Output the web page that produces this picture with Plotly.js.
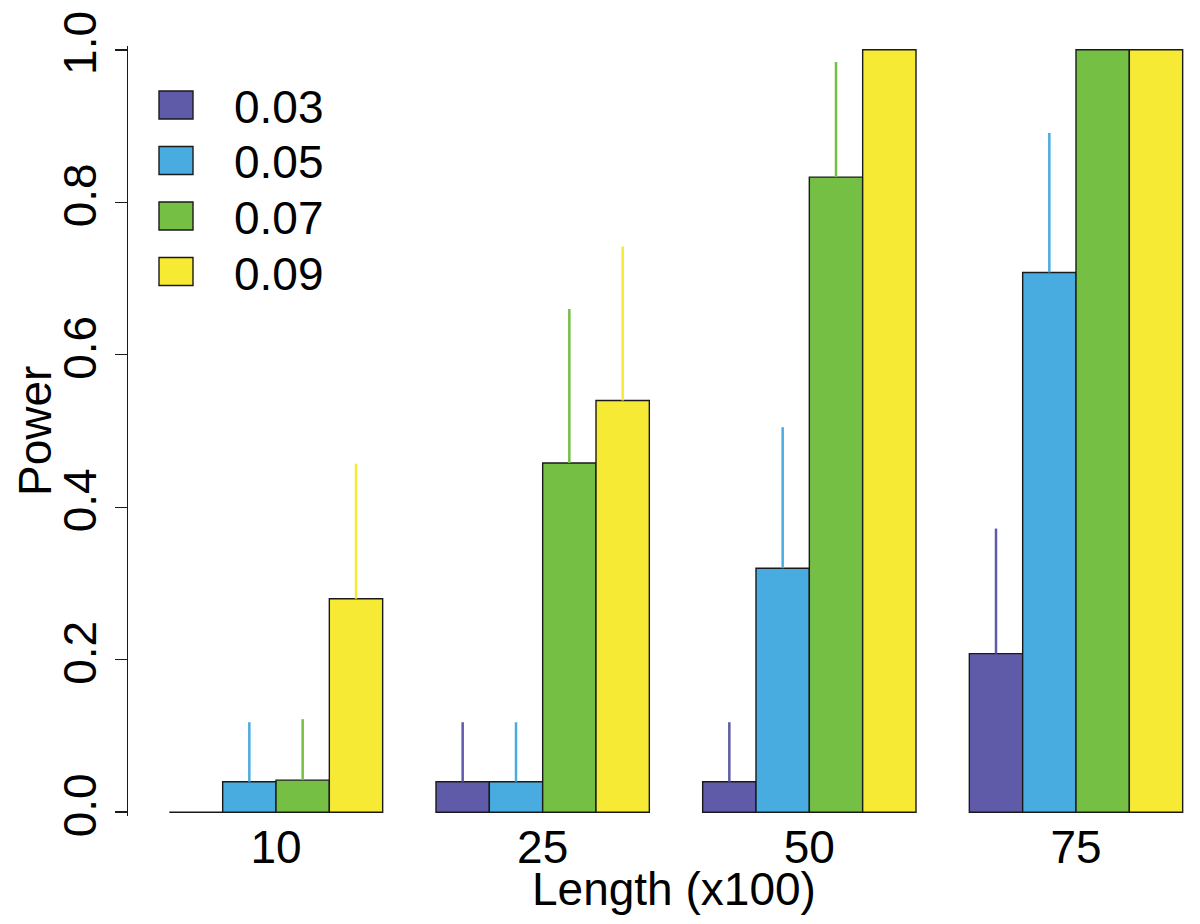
<!DOCTYPE html>
<html>
<head>
<meta charset="utf-8">
<script src="https://cdn.plot.ly/plotly-3.0.1.min.js"></script>
<style>html,body{margin:0;padding:0;background:#fff;}#chart{width:1200px;height:924px;}</style>
</head>
<body>
<div id="chart"></div>
<script>
// ---- data ----
const categories = ["10", "25", "50", "75"];
const seriesNames = ["0.03", "0.05", "0.07", "0.09"];
const seriesColors = ["#5F5BA9", "#49ACE0", "#74BF44", "#F6EA35"];
const power003 = [0.0, 0.04, 0.04, 0.208];
const power005 = [0.04, 0.04, 0.32, 0.708];
const power007 = [0.042, 0.458, 0.833, 1.0];
const power009 = [0.28, 0.54, 1.0, 1.0];
const upper003 = [0.0, 0.118, 0.118, 0.372];
const upper005 = [0.118, 0.118, 0.505, 0.891];
const upper007 = [0.122, 0.66, 0.984, 1.0];
const upper009 = [0.457, 0.742, 1.0, 1.0];
const yTickVals = [0, 0.2, 0.4, 0.6, 0.8, 1.0];
const yTickText = ["0.0", "0.2", "0.4", "0.6", "0.8", "1.0"];
const xTitle = "Length (x100)";
const yTitle = "Power";

// ---- layout geometry ----
const W = 1200, H = 924, ML = 128, MR = 0, MT = 46, MB = 108;
const PW = W - ML - MR, PH = H - MT - MB;
const pxX = p => (p - ML) / PW;
const pxY = p => (H - MB - p) / PH;
const FONT = '"Liberation Sans", Arial, Helvetica, sans-serif';
const FS = 46;

const values = [power003, power005, power007, power009];
const uppers = [upper003, upper005, upper007, upper009];

const traces = values.map((v, i) => ({
  type: 'bar',
  name: seriesNames[i],
  x: categories,
  y: v,
  marker: {color: seriesColors[i], line: {color: '#1a1a1a', width: 1.4}},
  error_y: {
    type: 'data', symmetric: false,
    array: uppers[i].map((u, k) => u - v[k]),
    arrayminus: v.map(() => 0),
    width: 0, thickness: 2.5, color: seriesColors[i]
  },
  showlegend: false,
  hoverinfo: 'x+y+name'
}));

// legend drawn as boxes + labels (R-style legend)
const shapes = [];
const annotations = [];
const legTop = 105, legStep = 55.5;
seriesNames.forEach((n, i) => {
  const cy = legTop + i * legStep;
  shapes.push({type: 'rect', xref: 'paper', yref: 'paper',
    x0: pxX(159), x1: pxX(193), y0: pxY(cy + 14), y1: pxY(cy - 14),
    fillcolor: seriesColors[i], line: {color: '#1a1a1a', width: 1.4}});
  annotations.push({xref: 'paper', yref: 'paper', x: pxX(232), y: pxY(cy + 2),
    xanchor: 'left', yanchor: 'middle', showarrow: false, text: n,
    font: {family: FONT, size: FS, color: '#000'}});
});
annotations.push({xref: 'paper', yref: 'paper', x: pxX(674), y: pxY(889),
  xanchor: 'center', yanchor: 'middle', showarrow: false, text: xTitle,
  font: {family: FONT, size: FS, color: '#000'}});
annotations.push({xref: 'paper', yref: 'paper', x: pxX(35), y: pxY(431),
  xanchor: 'center', yanchor: 'middle', showarrow: false, text: yTitle, textangle: -90,
  font: {family: FONT, size: FS, color: '#000'}});

const layout = {
  width: W, height: H,
  margin: {l: ML, r: MR, t: MT, b: MB, pad: 0},
  paper_bgcolor: '#fff', plot_bgcolor: '#fff',
  barmode: 'group', bargap: 0.2, bargroupgap: 0,
  font: {family: FONT, size: FS, color: '#000'},
  showlegend: false,
  xaxis: {
    type: 'category', range: [-0.555, 3.465],
    showline: false, showgrid: false, zeroline: false, ticks: '',
    tickfont: {family: FONT, size: FS, color: '#000'},
    automargin: false
  },
  yaxis: {
    range: [-0.005, 1.005],
    tickvals: yTickVals, ticktext: yTickText, tickangle: -90,
    showline: true, linecolor: '#1a1a1a', linewidth: 1.4,
    ticks: 'outside', ticklen: 12, tickwidth: 1.4, tickcolor: '#1a1a1a',
    showgrid: false, zeroline: false,
    tickfont: {family: FONT, size: FS, color: '#000'},
    automargin: false
  },
  shapes: shapes,
  annotations: annotations
};

Plotly.newPlot('chart', traces, layout, {displayModeBar: false, staticPlot: true});
</script>
</body>
</html>
